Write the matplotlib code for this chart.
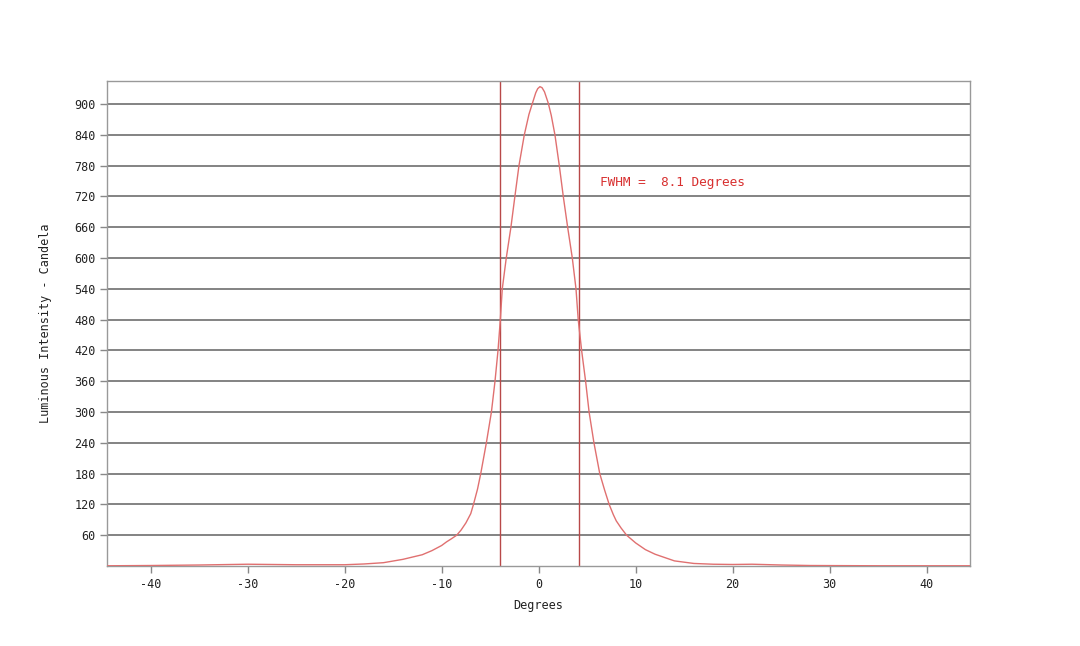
import matplotlib.pyplot as plt

# Beam profile (degrees, candela)
degrees = [-44.4, -40, -35, -30, -25, -20, -18, -16, -14, -12, -11, -10,
           -9.5, -9, -8.45, -8.0, -7.5, -7.0, -6.72, -6.3, -5.97, -5.39,
           -4.87, -4.5, -4.19, -3.95, -3.75, -3.34, -2.86, -2.45, -2.03,
           -1.48, -1.0, -0.62, -0.3, -0.1, 0.13, 0.35, 0.6, 0.99, 1.3, 1.68,
           2.13, 2.54, 2.99, 3.47, 3.85, 4.08, 4.43, 4.84, 5.2, 5.7, 6.3,
           6.8, 7.27, 7.7, 8.0, 8.5, 9.07, 10, 11, 12, 14, 16, 18, 20, 22,
           25, 28, 35, 44.4]
candela = [0.5, 1, 2, 3.5, 2.5, 2.5, 4, 6.5, 13, 22, 30, 40,
           47, 53, 60, 70, 84, 102, 120, 150, 180, 240,
           300, 360, 420, 480, 540, 600, 660, 720, 780,
           840, 880, 903, 922, 930, 934, 932, 924, 902, 878, 840,
           780, 720, 660, 600, 540, 480, 420, 360, 300, 240, 180,
           148, 120, 100, 88, 74, 60, 45, 32, 23, 10, 5, 3.5, 3, 3.5,
           2, 1, 0.5, 0.5]

fwhm_left = -3.95
fwhm_right = 4.15
fwhm_text = 'FWHM =  8.1 Degrees'

x_ticks = list(range(-40, 41, 10))
y_ticks = list(range(60, 901, 60))

plt.rcParams['font.family'] = ['DejaVu Sans Mono']
plt.rcParams['axes.unicode_minus'] = False

fig = plt.figure(figsize=(10.8, 6.46), dpi=100)
ax = fig.add_axes([0.0995, 0.1238, 0.7985, 0.7508])

for y in y_ticks:
    ax.axhline(y, color='#7a7a7a', linewidth=1.3, zorder=1)

ax.axvline(fwhm_left, color='#b84848', linewidth=1.0, zorder=2)
ax.axvline(fwhm_right, color='#b84848', linewidth=1.0, zorder=2)
ax.plot(degrees, candela, color='#e07070', linewidth=1.0, zorder=3)

ax.text(6.3, 748, fwhm_text, color='#d83030', fontsize=9.2,
        ha='left', va='center')

ax.set_xlim(-44.45, 44.45)
ax.set_ylim(0, 945)
ax.set_xticks(x_ticks)
ax.set_yticks(y_ticks)
ax.tick_params(axis='both', colors='#888888', labelcolor='#222222',
               labelsize=8.5, length=5, width=1)

for s in ax.spines.values():
    s.set_color('#999999')
    s.set_linewidth(1.0)

ax.set_xlabel('Degrees', fontsize=8.5, color='#222222', labelpad=6)
ax.set_ylabel('Luminous Intensity - Candela', fontsize=8.5,
              color='#222222', labelpad=16)

fig.savefig('out.png', dpi=100, facecolor='white')
